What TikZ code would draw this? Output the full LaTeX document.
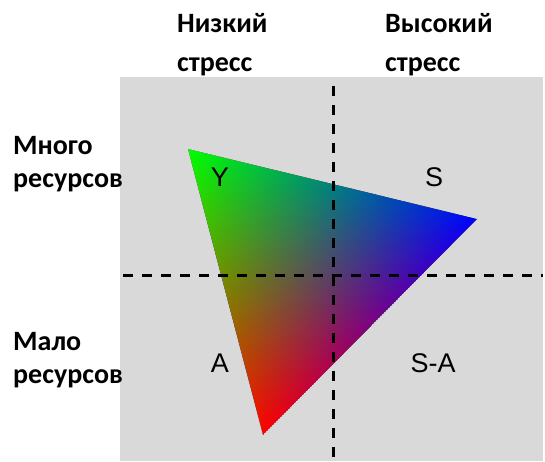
\documentclass[tikz,border=0pt]{standalone}
\usepackage{fontspec}
\setmainfont{Carlito}
\newfontfamily\quadfont{Liberation Sans}
\usetikzlibrary{calc}
\definecolor{panelGray}{HTML}{D9D9D9}

% one colour channel: black on the opposite edge, full colour at the vertex
\newcommand{\rgbchannel}[4]{%
  \coordinate (foot) at ($(#2)!(#1)!(#3)$);
  \path let \p1 = ($(#1)-(foot)$) in
    \pgfextra{\pgfmathsetmacro\chanang{atan2(\y1,\x1)}%
              \pgfmathsetmacro\chanlen{veclen(\x1,\y1)}%
              \xdef\chanang{\chanang}\xdef\chanlen{\chanlen}};
  \begin{scope}[blend mode=lighten,
                transform canvas={shift={(foot)}, rotate=\chanang}]
    \shade[left color=black, right color=#4]
      (0,-400) rectangle (\chanlen,400);
  \end{scope}}

\begin{document}
\begin{tikzpicture}[x=1pt, y=1pt,
  head/.style={font=\bfseries\fontsize{28}{39}\selectfont, align=left,
               anchor=base west, inner sep=0pt},
  side/.style={head, font=\bfseries\fontsize{28}{33}\selectfont},
  quad/.style={font=\quadfont\fontsize{27}{32}\selectfont, anchor=base,
               inner sep=0pt},
  guide/.style={black, line width=3pt, dash pattern=on 10pt off 9pt}]
  \useasboundingbox (0,0) rectangle (545,461);
  \fill[panelGray] (120,0) rectangle (543,384);

  \coordinate (G) at (188,312);
  \coordinate (B) at (477,242);
  \coordinate (R) at (263,26);

  \begin{scope}
    \clip (G) -- (B) -- (R) -- cycle;
    \fill[black] (G) -- (B) -- (R) -- cycle;
    \rgbchannel{R}{G}{B}{red}
    \rgbchannel{G}{B}{R}{green}
    \rgbchannel{B}{R}{G}{blue}
  \end{scope}

  % quadrant borders
  \coordinate (vtop) at (333,384);
  \coordinate (vbot) at (333,0);
  \coordinate (hleft) at (120,186);
  \coordinate (hright) at (543,186);
  \draw[guide, dash phase=10pt] (vtop) -- (vbot);
  \draw[guide, dash phase=16pt] (hleft) -- (hright);

  % multi-line nodes sit on the baseline of their last line
  \node[head] (lowst) at (177,389) {Низкий\\стресс};
  \node[head] (highst) at (385,389) {Высокий\\стресс};
  \node[side] (manyres) at (13,273) {Много\\ресурсов};
  \node[side] (fewres) at (13,78) {Мало\\ресурсов};

  \node[quad] (qY) at (220,274) {Y};
  \node[quad] (qS) at (434,274) {S};
  \node[quad] (qA) at (220,89) {A};
  \node[quad] (qSA) at (433,89) {S-A};
\end{tikzpicture}
\end{document}
